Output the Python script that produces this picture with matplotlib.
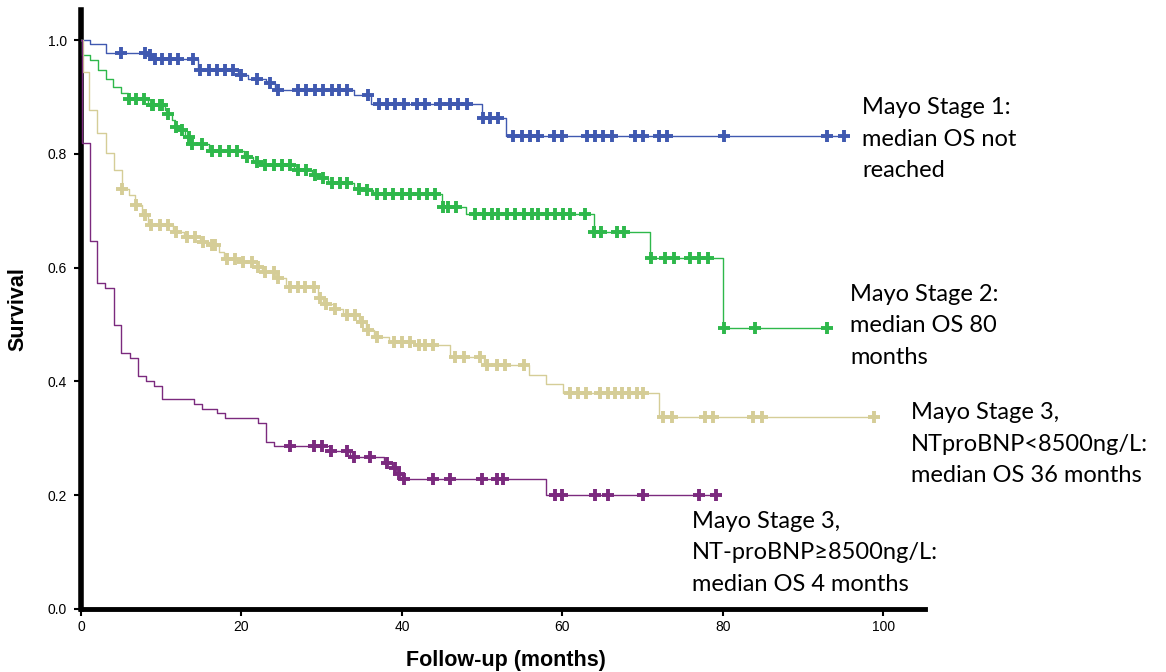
import matplotlib.pyplot as plt
import numpy as np

# Kaplan-Meier estimates by group: event times (months), survival after each event,
# censored follow-up times and last follow-up.
stage1_times = [0, 1.1, 3.1, 8.4, 8.8, 14.6, 19.6, 20.8, 23.0, 24.2, 34.0, 36.2, 50.0, 53.0]
stage1_surv = [1.0, 0.993, 0.978, 0.974, 0.967, 0.947, 0.939, 0.931, 0.924, 0.912, 0.903, 0.888, 0.864, 0.831]
stage1_cens = [5.0, 8.0, 8.6, 9.2, 10.1, 11.1, 12.1, 14.0, 14.8, 15.9, 16.9, 18.0, 19.0, 20.0,
               21.9, 23.6, 24.6, 27.1, 28.1, 29.2, 30.2, 31.3, 32.1, 33.1, 35.8, 37.1, 38.1,
               39.2, 40.2, 41.9, 42.9, 44.8, 46.0, 47.0, 48.1, 50.1, 51.0, 52.0, 53.9, 55.0,
               56.0, 57.0, 58.9, 59.9, 63.05, 64.1, 65.1, 66.2, 69.1, 70.1, 72.0, 73.0, 80.1,
               93.0, 95.1]
stage1_end = 95.6

stage2_times = [0, 0.1, 1.1, 2.1, 3.1, 4.0, 5.0, 5.9, 8.3, 10.5, 10.8, 11.4, 11.7, 12.3, 13.0,
                13.6, 16.0, 20.3, 21.5, 22.5, 26.6, 28.8, 29.8, 30.8, 34.0, 35.2, 36.4, 45.0,
                48.0, 63.9, 70.9, 80.0]
stage2_surv = [1.0, 0.974, 0.965, 0.947, 0.931, 0.917, 0.907, 0.896, 0.886, 0.877, 0.871, 0.860,
               0.848, 0.842, 0.830, 0.818, 0.806, 0.795, 0.786, 0.780, 0.772, 0.763, 0.757, 0.748,
               0.739, 0.736, 0.730, 0.707, 0.695, 0.662, 0.617, 0.494]
stage2_cens = [6.0, 6.9, 7.8, 8.8, 9.0, 9.85, 10.1, 10.9, 11.9, 12.55, 13.4, 13.8, 15.05, 16.3,
               17.3, 18.4, 19.4, 20.7, 21.9, 22.9, 24.0, 25.0, 26.1, 27.1, 28.1, 29.2, 30.2,
               31.3, 32.3, 33.1, 34.6, 35.6, 36.9, 37.9, 38.9, 40.0, 41.0, 42.1, 43.1, 44.1,
               45.1, 45.8, 46.8, 49.1, 50.2, 51.2, 52.0, 53.1, 54.1, 55.2, 56.2, 57.0, 58.1,
               59.1, 60.1, 61.0, 62.8, 64.0, 64.8, 66.8, 67.7, 71.0, 72.8, 73.9, 75.9, 77.0,
               78.2, 80.1, 84.0, 93.0]
stage2_end = 93.0

stage3a_times = [0, 0.2, 1.0, 2.0, 3.1, 4.15, 5.1, 6.0, 6.7, 7.6, 8.4, 11.5, 12.8, 14.8, 16.0,
                 17.2, 17.8, 20.0, 22.0, 22.6, 24.4, 25.5, 29.6, 30.2, 31.5, 32.6, 34.7, 35.5,
                 36.5, 38.4, 41.5, 46.0, 50.2, 55.9, 58.0, 60.1, 72.0]
stage3a_surv = [1.0, 0.944, 0.878, 0.836, 0.802, 0.772, 0.739, 0.728, 0.710, 0.692, 0.675, 0.663,
                0.654, 0.646, 0.640, 0.628, 0.616, 0.610, 0.602, 0.593, 0.581, 0.566, 0.546,
                0.537, 0.527, 0.517, 0.505, 0.490, 0.479, 0.470, 0.464, 0.443, 0.429, 0.412,
                0.396, 0.379, 0.337]
stage3a_cens = [5.1, 6.9, 8.0, 8.7, 9.85, 10.9, 11.9, 13.2, 14.2, 15.25, 16.3, 16.7, 18.2, 19.2,
                20.2, 21.3, 22.1, 22.9, 24.0, 24.6, 26.1, 27.1, 27.9, 29.0, 29.8, 30.6, 31.7,
                33.1, 34.2, 35.0, 35.8, 36.9, 39.0, 40.0, 41.0, 42.1, 42.9, 43.9, 46.6, 47.7,
                49.75, 50.6, 51.8, 52.9, 55.2, 61.0, 62.0, 62.9, 64.7, 65.7, 66.6, 67.4, 68.3,
                69.3, 70.1, 72.6, 73.65, 77.8, 78.8, 83.8, 84.9, 98.8]
stage3a_end = 98.8

stage3b_times = [0, 0.1, 1.1, 2.0, 3.0, 4.1, 5.0, 6.1, 7.1, 8.1, 9.1, 10.1, 14.05, 15.05, 17.0,
                 18.0, 22.0, 23.0, 24.0, 31.0, 33.5, 37.8, 38.8, 39.5, 40.0, 57.9]
stage3b_surv = [1.0, 0.820, 0.647, 0.573, 0.565, 0.500, 0.450, 0.442, 0.409, 0.401, 0.392, 0.369,
                0.360, 0.352, 0.344, 0.336, 0.327, 0.294, 0.286, 0.278, 0.268, 0.257, 0.247,
                0.237, 0.228, 0.200]
stage3b_cens = [26.0, 29.0, 30.0, 31.2, 33.1, 34.0, 36.0, 38.1, 39.2, 39.6, 40.2, 43.9, 46.0,
                50.0, 51.8, 52.6, 59.1, 59.9, 64.1, 65.7, 70.0, 77.0, 79.1]
stage3b_end = 79.1

labels = [
    "Mayo Stage 1:\nmedian OS not\nreached",
    "Mayo Stage 2:\nmedian OS 80\nmonths",
    "Mayo Stage 3,\nNTproBNP<8500ng/L:\nmedian OS 36 months",
    "Mayo Stage 3,\nNT-proBNP\u22658500ng/L:\nmedian OS 4 months",
]

groups = [
    (stage1_times, stage1_surv, stage1_cens, stage1_end, "#4059b0"),
    (stage2_times, stage2_surv, stage2_cens, stage2_end, "#2eb84b"),
    (stage3a_times, stage3a_surv, stage3a_cens, stage3a_end, "#d5cd97"),
    (stage3b_times, stage3b_surv, stage3b_cens, stage3b_end, "#7b2a7e"),
]

# label anchor (months, survival) for each text block
label_pos = [(97.4, 0.826), (95.9, 0.498), (103.4, 0.290), (76.2, 0.099)]

fig = plt.figure(figsize=(11.66, 6.72), dpi=100)
ax = fig.add_axes([81 / 1166, 63 / 672, 844 / 1166, 599 / 672])

for (t, s, c, end, color) in groups:
    t = np.asarray(t)
    s = np.asarray(s)
    ax.step(np.append(t, end), np.append(s, s[-1]), where="post", color=color, lw=1.0, zorder=3)
    c = np.asarray(c)
    idx = np.searchsorted(t, c, side="right") - 1
    ax.plot(c, s[idx], ls="none", marker="+", ms=8, mew=2.8, color=color, zorder=4)

for text, (x, y) in zip(labels, label_pos):
    ax.text(x, y, text, ha="left", va="center", fontsize=17, linespacing=1.62,
            family=["Lato", "DejaVu Sans"], color="black", clip_on=False)

ax.set_xlim(0, 105.2)
ax.set_ylim(0, 1.053)
ax.set_xticks(np.arange(0, 101, 20))
ax.set_yticks(np.arange(0, 1.01, 0.2))
ax.set_yticklabels([f"{v:.1f}" for v in np.arange(0, 1.01, 0.2)])
ax.tick_params(axis="both", direction="out", length=5, width=1.5, labelsize=10, pad=3)
ax.tick_params(axis="y", pad=5)
for lbl in ax.get_xticklabels() + ax.get_yticklabels():
    lbl.set_family("Liberation Sans")

ax.spines["top"].set_visible(False)
ax.spines["right"].set_visible(False)
ax.spines["left"].set_linewidth(4)
ax.spines["bottom"].set_linewidth(3.5)

ax.set_xlabel("Follow-up (months)", fontsize=15.5, fontweight="bold", family="Liberation Sans")
ax.set_ylabel("Survival", fontsize=15.5, fontweight="bold", family="Liberation Sans")
ax.xaxis.set_label_coords(0.504, -0.068)
ax.yaxis.set_label_coords(-0.062, 0.5)

fig.savefig("out.png", dpi=100)
